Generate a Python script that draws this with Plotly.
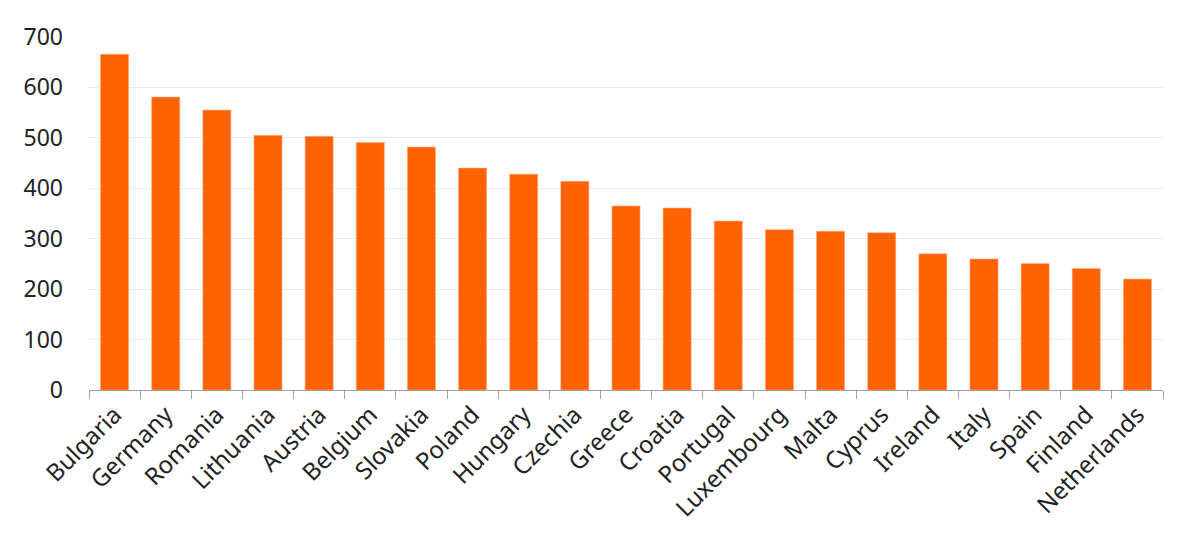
import plotly.graph_objects as go

countries = ["Bulgaria", "Germany", "Romania", "Lithuania", "Austria", "Belgium",
             "Slovakia", "Poland", "Hungary", "Czechia", "Greece", "Croatia",
             "Portugal", "Luxembourg", "Malta", "Cyprus", "Ireland", "Italy",
             "Spain", "Finland", "Netherlands"]
values = [666, 581, 555, 505, 503, 491, 482, 440, 428, 414, 365, 361,
          335, 318, 315, 312, 270, 260, 251, 241, 220]

orange = "#FF6200"

fig = go.Figure()
fig.add_bar(x=countries, y=values,
            marker=dict(color=orange, line=dict(color="#FFB08A", width=0.6)))

# page body has an 8px margin, so the margins are shifted by that
fig.update_layout(
    width=1200, height=552,
    margin=dict(l=81, r=45, t=29, b=170),
    plot_bgcolor="white", paper_bgcolor="white",
    bargap=0.45,
    showlegend=False,
    font=dict(family="Noto Sans, sans-serif", size=23, color="#222222"),
)
fig.update_xaxes(
    tickangle=-45, tickson="boundaries", ticks="outside", ticklen=8,
    tickcolor="#a0a0a0", showline=True, linecolor="#a0a0a0", linewidth=1.2,
    showgrid=False, automargin=False, tickfont=dict(size=24),
)
fig.update_yaxes(
    range=[0, 700], dtick=100, showgrid=True, gridcolor="#ebebeb",
    zeroline=False, ticks="", ticklabelstandoff=25, automargin=False,
    tickfont=dict(size=23),
)

fig.write_html("out.html")
